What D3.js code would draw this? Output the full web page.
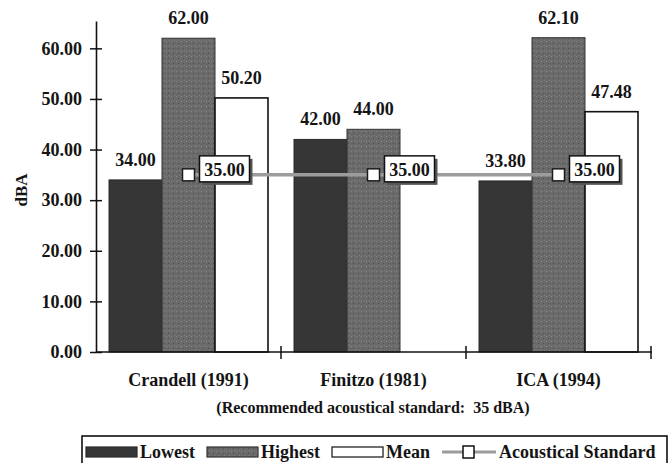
<!DOCTYPE html>
<html><head><meta charset="utf-8">
<script src="https://cdn.jsdelivr.net/npm/d3@7"></script>
<style>
body{margin:0;background:#fff}
svg{display:block}
text{font-family:"Liberation Serif","Times New Roman",serif;font-weight:bold;fill:#141414}
</style>
</head><body><svg id="c" width="671" height="463"></svg>
<script>
const categories = ["Crandell (1991)", "Finitzo (1981)", "ICA (1994)"];
const seriesNames = ["Lowest", "Highest", "Mean"];
const lowest = [34.00, 42.00, 33.80];
const highest = [62.00, 44.00, 62.10];
const mean = [50.20, null, 47.48];
const standard = [35.00, 35.00, 35.00];
const standardName = "Acoustical Standard";
const yTicks = [0, 10, 20, 30, 40, 50, 60];
const yLabel = "dBA";
const note = "(Recommended acoustical standard:  35 dBA)";

const seriesValues = [lowest, highest, mean];
const fills = {Lowest: "#363636", Highest: "url(#speck)", Mean: "#ffffff"};
const strokes = {Lowest: "#2a2a2a", Highest: "#333", Mean: "#111"};

const svg = d3.select("#c");
const fmt = d3.format(".2f");

// speckled texture for "Highest"
const pat = svg.append("defs").append("pattern").attr("id", "speck")
  .attr("patternUnits", "userSpaceOnUse").attr("width", 5).attr("height", 5);
pat.append("rect").attr("width", 5).attr("height", 5).attr("fill", "#6a6a6a");
pat.append("rect").attr("x", 1).attr("y", 1).attr("width", 1).attr("height", 1).attr("fill", "#8a8a8a");
pat.append("rect").attr("x", 3).attr("y", 3).attr("width", 1).attr("height", 1).attr("fill", "#505050");
pat.append("rect").attr("x", 4).attr("y", 0).attr("width", 1).attr("height", 1).attr("fill", "#7e7e7e");

const x0 = d3.scaleBand().domain(categories).range([96, 651]).padding(0);
const x1 = d3.scaleBand().domain(seriesNames).range([13, x0.bandwidth() - 13]);
const y = d3.scaleLinear().domain([0, 65.4]).range([352, 21]);

// bars
const rows = [];
categories.forEach((c, i) => seriesNames.forEach((s, j) => {
  const v = seriesValues[j][i];
  if (v != null) rows.push({c, s, v});
}));

svg.append("g").selectAll("rect").data(rows).join("rect")
  .attr("x", d => x0(d.c) + x1(d.s))
  .attr("y", d => y(d.v))
  .attr("width", x1.bandwidth())
  .attr("height", d => y(0) - y(d.v))
  .attr("fill", d => fills[d.s])
  .attr("stroke", d => strokes[d.s])
  .attr("stroke-width", d => d.s === "Mean" ? 1.6 : 1);

svg.append("g").selectAll("text").data(rows).join("text")
  .attr("x", d => x0(d.c) + x1(d.s) + x1.bandwidth() / 2)
  .attr("y", d => y(d.v) - 14)
  .attr("text-anchor", "middle")
  .attr("font-size", 18)
  .text(d => fmt(d.v));

// y axis
const gy = svg.append("g").attr("transform", "translate(96,0)")
  .call(d3.axisLeft(y).tickValues(yTicks).tickFormat(fmt).tickSizeInner(6).tickSizeOuter(0).tickPadding(8));
gy.select(".domain").attr("stroke", "#111").attr("stroke-width", 1.6);
gy.selectAll(".tick line").attr("x1", -6).attr("x2", 6).attr("stroke", "#111").attr("stroke-width", 1.5);
gy.selectAll(".tick text").attr("font-size", 18).attr("font-family", null).attr("fill", "#141414");

// x axis
const gx = svg.append("g").attr("transform", `translate(0,${y(0)})`)
  .call(d3.axisBottom(x0).tickSize(0).tickPadding(21));
gx.select(".domain").attr("d", `M96,0H652`).attr("stroke", "#111").attr("stroke-width", 1.6);
gx.selectAll(".tick text").attr("font-size", 18).attr("font-family", null).attr("fill", "#141414");
const bounds = d3.range(categories.length + 1).map(i => 96 + i * x0.step());
gx.selectAll(".bnd").data(bounds.slice(1)).join("line").attr("class", "bnd")
  .attr("x1", d => d).attr("x2", d => d).attr("y1", -6).attr("y2", 7)
  .attr("stroke", "#111").attr("stroke-width", 1.5);

// y label
svg.append("text").attr("transform", `translate(27,${y(32)}) rotate(-90)`)
  .attr("text-anchor", "middle").attr("font-size", 17).text(yLabel);

// note
svg.append("text").attr("x", 373).attr("y", 413).attr("text-anchor", "middle")
  .attr("font-size", 16).style("white-space", "pre").text(note);

// standard line
const sp = categories.map((c, i) => ({c, v: standard[i], cx: x0(c) + x0.bandwidth() / 2}));
svg.append("path").datum(sp)
  .attr("d", d3.line().x(d => d.cx).y(d => y(d.v)))
  .attr("fill", "none").attr("stroke", "#9c9c9c").attr("stroke-width", 3.5);
const mk = svg.append("g").selectAll("g").data(sp).join("g");
mk.append("rect").attr("x", d => d.cx - 6).attr("y", d => y(d.v) - 6).attr("width", 12).attr("height", 12)
  .attr("fill", "#fff").attr("stroke", "#1a1a1a").attr("stroke-width", 1.5);
mk.append("rect").attr("x", d => d.cx + 14).attr("y", d => y(d.v) - 16).attr("width", 50).attr("height", 26)
  .attr("fill", "#555");
mk.append("rect").attr("x", d => d.cx + 11).attr("y", d => y(d.v) - 19).attr("width", 50).attr("height", 26)
  .attr("fill", "#fff").attr("stroke", "#111").attr("stroke-width", 1.5);
mk.append("text").attr("x", d => d.cx + 36).attr("y", d => y(d.v) + 1)
  .attr("text-anchor", "middle").attr("font-size", 18).text(d => fmt(d.v));

// legend
const lg = svg.append("g");
lg.append("rect").attr("x", 82).attr("y", 436).attr("width", 585).attr("height", 40)
  .attr("fill", "none").attr("stroke", "#111").attr("stroke-width", 1.6);
let lx = 86;
const items = seriesNames.map(s => ({name: s, type: "bar"})).concat([{name: standardName, type: "line"}]);
items.forEach(it => {
  if (it.type === "bar") {
    lg.append("rect").attr("x", lx).attr("y", 447).attr("width", 51).attr("height", 10)
      .attr("fill", fills[it.name]).attr("stroke", strokes[it.name]).attr("stroke-width", 1.2);
    lx += 54;
  } else {
    lg.append("line").attr("x1", lx).attr("x2", lx + 54).attr("y1", 452).attr("y2", 452)
      .attr("stroke", "#9c9c9c").attr("stroke-width", 3);
    lg.append("rect").attr("x", lx + 21).attr("y", 446).attr("width", 11).attr("height", 12)
      .attr("fill", "#fff").attr("stroke", "#111").attr("stroke-width", 1.5);
    lx += 57;
  }
  const t = lg.append("text").attr("x", lx).attr("y", 458).attr("font-size", 18).text(it.name);
  lx += t.node().getComputedTextLength() + 12;
});
</script>
</body></html>
